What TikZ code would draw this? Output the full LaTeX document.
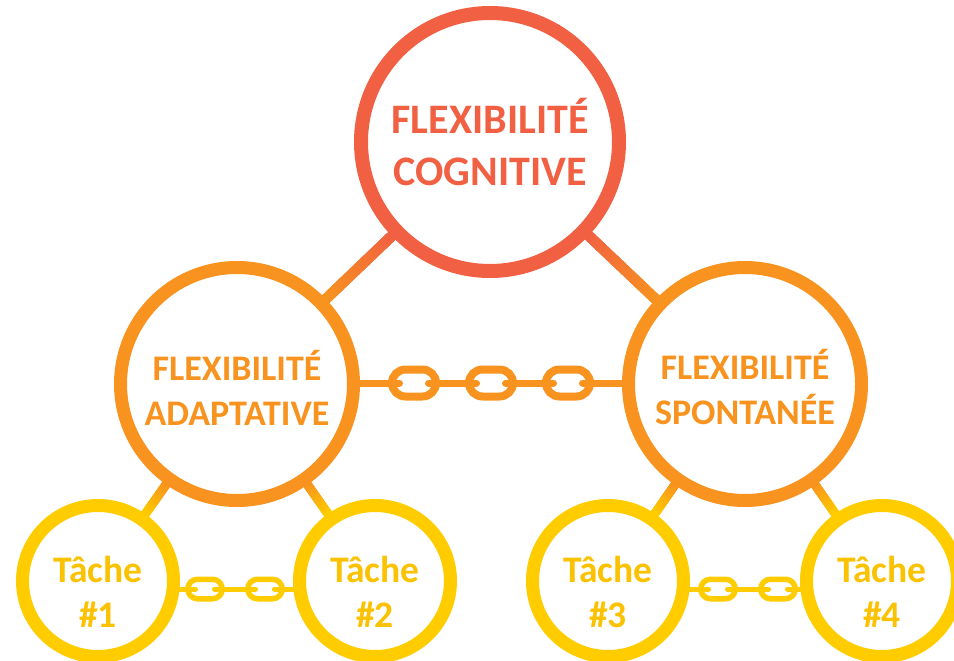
\documentclass[tikz,border=0pt]{standalone}
\usepackage{fontspec}
\setmainfont{Carlito}
\usetikzlibrary{calc}
\pgfdeclarelayer{background}
\pgfsetlayers{background,main}
\definecolor{cRed}{RGB}{241,96,66}
\definecolor{cOrange}{RGB}{247,147,30}
\definecolor{cYellow}{RGB}{255,204,0}
\definecolor{cGold}{RGB}{250,194,0}

% gradient connector: from node #1 to node #2, width #3, colours #4 -> #5
\newcommand\gradconn[5]{%
  \path (#1) -- (#2) coordinate[pos=0] (ga) coordinate[pos=1] (gb);
  \draw[line width=#3, #4] (#1.center) -- ($(ga)!0.5!(gb)$);
  \draw[line width=#3, #5] ($(ga)!0.5!(gb)$) -- (#2.center);
  \foreach \i in {0,...,23} {
    \pgfmathsetmacro\gs{(\i-0.4)/24}
    \pgfmathsetmacro\ge{(\i+1.4)/24}
    \pgfmathtruncatemacro\gp{round((\i+0.5)/24*100)}
    \draw[line width=#3, color=#5!\gp!#4] ($(ga)!\gs!(gb)$) -- ($(ga)!\ge!(gb)$);
  }%
}
% chain link: cx cy halfw halfh stroke linewidth stubend colour
\newcommand\chlink[8]{%
  \draw[#8, line width=#5, fill=white, rounded corners=#4] (#1-#3,#2-#4) rectangle (#1+#3,#2+#4);
  \draw[#8, line width=#6, line cap=round] (#1-#3,#2) -- (#1-#7,#2) (#1+#7,#2) -- (#1+#3,#2);
}
% strut that pushes a two-line label down
\newcommand\pushdown[1]{\rule{0pt}{#1}}

\begin{document}
\begin{tikzpicture}[x=1pt,y=-1pt,
  ring/.style={circle, fill=white, inner sep=0pt, align=center},
  topring/.style={ring, draw=cRed, text=cRed, line width=14pt, minimum size=258pt,
    font=\bfseries\fontsize{42}{52}\selectfont},
  midring/.style={ring, draw=cOrange, text=cOrange, line width=13pt, minimum size=233pt,
    font=\bfseries\fontsize{36}{45}\selectfont},
  taskring/.style={ring, draw=cYellow, text=cGold, line width=13pt, minimum size=151pt,
    font=\bfseries\fontsize{37.5}{45}\selectfont},
]
\useasboundingbox (0,0) rectangle (954,661);
\clip (0,0) rectangle (954,661);

\node[topring] (top) at (490,142) {FLEXIBILITÉ\\COGNITIVE};
\node[midring] (midL) at (237,384) {\pushdown{37pt}FLEXIBILITÉ\\ADAPTATIVE};
\node[midring] (midR) at (745,384) {\pushdown{37pt}FLEXIBILITÉ\\SPONTANÉE};
\node[taskring] (t1) at (98,581) {\pushdown{48pt}Tâche\\\#1};
\node[taskring] (t2) at (375,581) {\pushdown{48pt}Tâche\\\#2};
\node[taskring] (t3) at (608,581) {\pushdown{48pt}Tâche\\\#3};
\node[taskring] (t4) at (882,581) {\pushdown{48pt}Tâche\\\#4};

\begin{pgfonlayer}{background}
  \gradconn{top}{midL}{10.5pt}{cRed}{cOrange}
  \gradconn{top}{midR}{10.5pt}{cRed}{cOrange}
  \gradconn{midL}{t1}{9pt}{cOrange}{cYellow}
  \gradconn{midL}{t2}{9pt}{cOrange}{cYellow}
  \gradconn{midR}{t3}{9pt}{cOrange}{cYellow}
  \gradconn{midR}{t4}{9pt}{cOrange}{cYellow}

  % chain between the two middle rings
  \draw[cOrange, line width=7pt] ([yshift=1pt]midL.center) -- ([yshift=1pt]midR.center);
  \chlink{414}{383}{22}{13.5}{8pt}{7pt}{14.5}{cOrange}
  \chlink{491}{383}{22}{13.5}{8pt}{7pt}{14.5}{cOrange}
  \chlink{568}{383}{22}{13.5}{8pt}{7pt}{14.5}{cOrange}

  % chains between task rings
  \draw[cYellow, line width=5pt] ([yshift=-8pt]t1.center) -- ([yshift=-8pt]t2.center);
  \chlink{205}{589}{17.25}{9.75}{5.5pt}{5pt}{9.5}{cYellow}
  \chlink{265}{589}{17.25}{9.75}{5.5pt}{5pt}{9.5}{cYellow}
  \draw[cYellow, line width=5pt] ([yshift=-8pt]t3.center) -- ([yshift=-8pt]t4.center);
  \chlink{718}{589}{17.25}{9.75}{5.5pt}{5pt}{9.5}{cYellow}
  \chlink{778}{589}{17.25}{9.75}{5.5pt}{5pt}{9.5}{cYellow}
\end{pgfonlayer}
\end{tikzpicture}
\end{document}
